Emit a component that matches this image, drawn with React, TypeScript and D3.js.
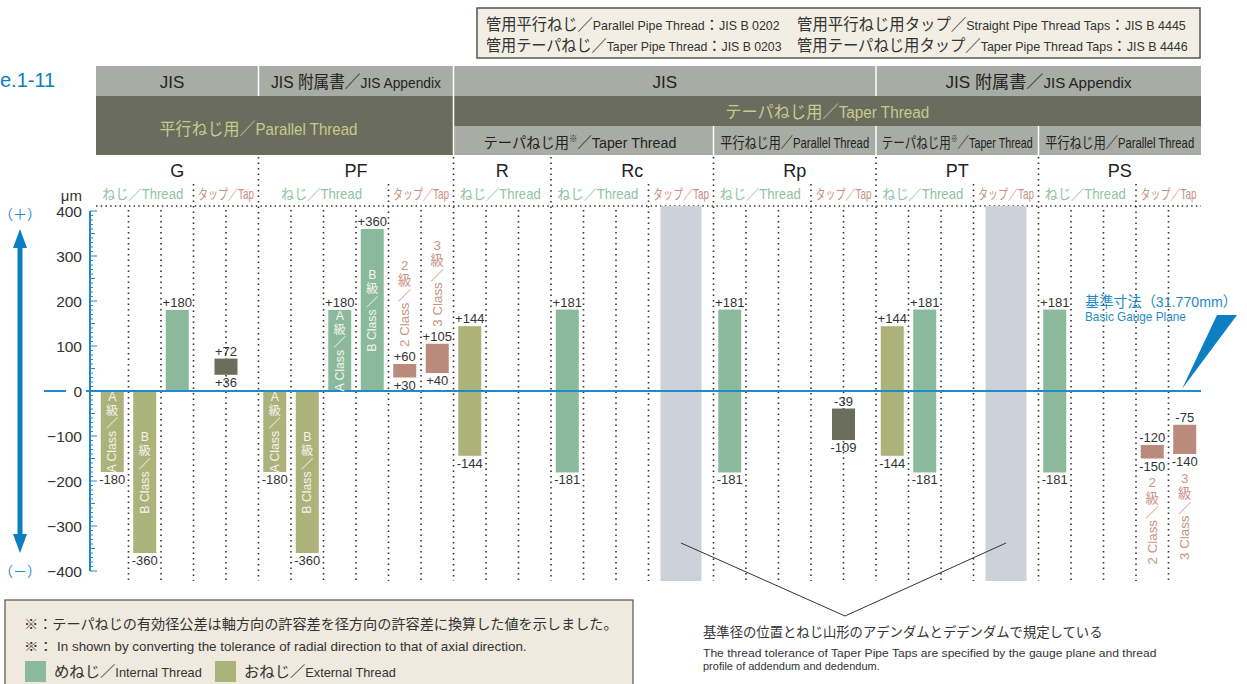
import React, { useLayoutEffect, useRef, useState } from 'react';
import * as d3 from 'd3';

const FONT = "'Liberation Sans', Arial, 'Noto Sans CJK JP', sans-serif";

// ---------- data ----------
const yTicks = [400, 300, 200, 100, 0, -100, -200, -300, -400];
const groupNames = ['G', 'PF', 'R', 'Rc', 'Rp', 'PT', 'PS'];
const groupStart = [0, 5, 11, 14, 19, 24, 29];
const groupEnd = [5, 11, 14, 19, 24, 29, 34];
const groupSplit = [3, 9, null, 17, 22, 27, 32];

// bar centre positions in column units
const barCenters = [0.5, 1.5, 2.5, 4, 5.5, 6.5, 7.5, 8.5, 9.5, 10.5, 11.5, 14.5, 19.5, 23, 24.5, 25.5, 29.5, 32.5, 33.5];
const barLow = [-180, -360, 0, 36, -180, -360, 0, 0, 30, 40, -144, -181, -181, -109, -144, -181, -181, -150, -140];
const barHigh = [0, 0, 180, 72, 0, 0, 180, 360, 60, 105, 144, 181, 181, -39, 144, 181, 181, -120, -75];
const barKinds = ['ext', 'ext', 'int', 'tapD', 'ext', 'ext', 'int', 'int', 'tapP', 'tapP', 'ext', 'int', 'int', 'tapD', 'ext', 'int', 'int', 'tapP', 'tapP'];
const barClass = ['A', 'B', '', '', 'A', 'B', 'A', 'B', '2', '3', '', '', '', '', '', '', '', '2', '3'];
const taperTapCenters = [18, 28];

const standardStart = [0, 5, 11, 24];
const standardEnd = [5, 11, 24, 34];
const standardJp = ['JIS', 'JIS 附属書／', 'JIS', 'JIS 附属書／'];
const standardEn = ['', 'JIS Appendix', '', 'JIS Appendix'];

const typeStart = [11, 19, 24, 29];
const typeEnd = [19, 24, 29, 34];
const typeJp = ['テーパねじ用', '平行ねじ用', 'テーパねじ用', '平行ねじ用'];
const typeMark = ['※', '', '※', ''];
const typeEn = ['Taper Thread', 'Parallel Thread', 'Taper Thread', 'Parallel Thread'];

const specJp = [['管用平行ねじ／', '管用平行ねじ用タップ／'], ['管用テーパねじ／', '管用テーパねじ用タップ／']];
const specEn = [['Parallel Pipe Thread', 'Straight Pipe Thread Taps'], ['Taper Pipe Thread', 'Taper Pipe Thread Taps']];
const specStd = [['JIS B 0202', 'JIS B 4445'], ['JIS B 0203', 'JIS B 4446']];

const COLORS: Record<string, string> = { int: '#8aba9b', ext: '#abb27a', tapD: '#6b6e5c', tapP: '#ba8a7c' };
const BLUE = '#1f8bc9';
const DEEPBLUE = '#0b7fc1';

const fmt = (v: number) => (v > 0 ? `+${v}` : `${v}`);

// Text squeezed horizontally to a given width (measured, then scaled)
function FitText({ x, y, width, anchor = 'start', fill, fontSize, children }:
  { x: number; y: number; width: number; anchor?: string; fill: string; fontSize?: number; children: React.ReactNode }) {
  const ref = useRef<SVGTextElement>(null);
  const [s, setS] = useState(1);
  useLayoutEffect(() => {
    if (ref.current) {
      const w = ref.current.getComputedTextLength();
      if (w > 0) setS(width / w);
    }
  }, [width]);
  return (
    <g transform={`translate(${x},${y}) scale(${s},1)`}>
      <text ref={ref} x={0} y={0} textAnchor={anchor} fill={fill} fontSize={fontSize}>{children}</text>
    </g>
  );
}

function ClassLabel({ cx, top, ch, color, fs }: { cx: number; top: number; ch: string; color: string; fs: number }) {
  return (
    <g fill={color} fontFamily={FONT}>
      <text x={cx} y={top + 0.75 * fs} textAnchor="middle" fontSize={fs}>{ch}</text>
      <text x={cx} y={top + 1.9 * fs} textAnchor="middle" fontSize={fs}>級</text>
      <text x={cx} y={top + 3.0 * fs} textAnchor="middle" fontSize={fs}>／</text>
      <text
        transform={`translate(${cx},${top + 3.2 * fs}) rotate(-90)`}
        textAnchor="end"
        dominantBaseline="central"
        fontSize={fs}
      >{`${ch} Class`}</text>
    </g>
  );
}

export default function App() {
  const W = 1247, H = 684;
  const x = d3.scaleLinear().domain([0, 34]).range([96, 1201]);
  const y = d3.scaleLinear().domain([-400, 400]).range([571, 211]);
  const barW = 23;
  const plotTop = 206, plotBottom = 581;

  const minor = d3.range(-400, 401, 10);

  const groupBounds = groupStart.filter((s) => s > 0);
  const splitBounds = groupSplit.filter((s) => s !== null) as number[];
  const plainCols = d3.range(1, 34).filter((c) => !groupBounds.includes(c) && !splitBounds.includes(c));

  return (
    <svg width={W} height={H} style={{ position: 'absolute', left: 0, top: 0, background: '#fff' }} fontFamily={FONT}>
      <rect x={0} y={0} width={W} height={H} fill="#fff" />
      <text x={0} y={87} fontSize={20} fill={DEEPBLUE}>e.1-11</text>

      {/* spec box */}
      <rect x={477} y={8} width={723} height={50} fill="#f2eee4" stroke="#555" strokeWidth={1.5} />
      {[0, 1].map((r) =>
        [0, 1].map((c) => (
          <FitText key={`${r}${c}`} x={c === 0 ? 486 : 797} y={r === 0 ? 30 : 51} fill="#333"
            width={c === 0 ? (r === 0 ? 294 : 296) : (r === 0 ? 389 : 391)}>
            <tspan fontSize={16}>{specJp[r][c]}</tspan>
            <tspan fontSize={13}>{specEn[r][c]}</tspan>
            <tspan fontSize={15}>：</tspan>
            <tspan fontSize={13}>{specStd[r][c]}</tspan>
          </FitText>
        ))
      )}

      {/* header row 1 */}
      {standardStart.map((s, i) => (
        <g key={i}>
          <rect x={x(s)} y={66} width={x(standardEnd[i]) - x(s)} height={30} fill="#a9aca5" />
          {standardEn[i] ? (
            <FitText x={(x(s) + x(standardEnd[i])) / 2} y={88} anchor="middle" fill="#222" width={i === 1 ? 170 : 186}>
              <tspan fontSize={17}>{standardJp[i]}</tspan>
              <tspan fontSize={15}>{standardEn[i]}</tspan>
            </FitText>
          ) : (
            <text x={i === 0 ? 172 : (x(s) + x(standardEnd[i])) / 2} y={88} textAnchor="middle" fill="#222" fontSize={17}>{standardJp[i]}</text>
          )}
        </g>
      ))}
      {/* header row 2 */}
      <rect x={x(0)} y={96} width={x(11) - x(0)} height={59} fill="#6a6d5d" />
      <rect x={x(11)} y={96} width={x(34) - x(11)} height={30} fill="#6a6d5d" />
      <FitText x={x(5)} y={135} anchor="middle" fill="#c6cb8e" width={198}>
        <tspan fontSize={17}>平行ねじ用／</tspan><tspan fontSize={16}>Parallel Thread</tspan>
      </FitText>
      <FitText x={x(22.5)} y={118} anchor="middle" fill="#c6cb8e" width={204}>
        <tspan fontSize={17}>テーパねじ用／</tspan><tspan fontSize={16}>Taper Thread</tspan>
      </FitText>
      {/* header row 3 */}
      {typeStart.map((s, i) => {
        const tl = [193, 149, 151, 149][i];
        const cx = i === 0 ? 580 : (x(s) + x(typeEnd[i])) / 2;
        return (
          <g key={i}>
            <rect x={x(s)} y={126} width={x(typeEnd[i]) - x(s)} height={29} fill="#a9aca5" />
            <FitText x={cx} y={148} anchor="middle" fill="#222" width={tl}>
              <tspan fontSize={15}>{typeJp[i]}</tspan>
              {typeMark[i] && <tspan fontSize={9} dy={-6}>{typeMark[i]}</tspan>}
              <tspan fontSize={15} dy={typeMark[i] ? 6 : 0}>／</tspan>
              <tspan fontSize={i === 0 ? 15 : 14}>{typeEn[i]}</tspan>
            </FitText>
          </g>
        );
      })}
      {[5, 11, 24].map((c) => (
        <line key={`s1${c}`} x1={x(c)} x2={x(c)} y1={66} y2={c === 11 ? 155 : 96} stroke="#fff" strokeWidth={1.5} />
      ))}
      {[19, 24, 29].map((c) => (
        <line key={`s3${c}`} x1={x(c)} x2={x(c)} y1={126} y2={155} stroke="#fff" strokeWidth={1.5} />
      ))}

      {/* group names and sub labels */}
      {groupNames.map((n, i) => {
        const s = groupStart[i], e = groupEnd[i], sp = groupSplit[i];
        const threadEnd = sp === null ? e : sp;
        return (
          <g key={n}>
            <text x={(x(s) + x(e)) / 2} y={177} textAnchor="middle" fontSize={18} fill="#222">{n}</text>
            <FitText x={(x(s) + x(threadEnd)) / 2 - 2} y={199} anchor="middle" fill="#8fc3a3" width={81} fontSize={14}>
              ねじ／Thread
            </FitText>
            {sp !== null && (
              <FitText x={(x(sp) + x(e)) / 2} y={199} anchor="middle" fill="#c9907f" width={56} fontSize={14}>
                タップ／Tap
              </FitText>
            )}
          </g>
        );
      })}

      {/* dotted grid */}
      <g stroke="#333" strokeWidth={1.6} fill="none">
        <line x1={x(0)} x2={x(34)} y1={plotTop} y2={plotTop} strokeDasharray="1.5 3.2" />
        {groupBounds.map((c) => (
          <line key={`g${c}`} x1={x(c)} x2={x(c)} y1={157} y2={plotBottom} strokeDasharray="1.5 4" />
        ))}
        {splitBounds.map((c) => (
          <line key={`p${c}`} x1={x(c)} x2={x(c)} y1={184} y2={plotBottom} strokeDasharray="1.5 4" />
        ))}
        {plainCols.map((c) => (
          <line key={`c${c}`} x1={x(c)} x2={x(c)} y1={plotTop + 4} y2={plotBottom} strokeDasharray="1.5 4" />
        ))}
      </g>

      {taperTapCenters.map((c) => (
        <rect key={c} x={x(c) - 20.5} y={plotTop} width={41} height={plotBottom - plotTop} fill="#cdd1d9" />
      ))}

      {/* bars */}
      {barCenters.map((c, i) => {
        const cx = x(c);
        return (
          <rect key={`b${i}`} x={cx - barW / 2} y={y(barHigh[i])} width={barW} height={y(barLow[i]) - y(barHigh[i])} fill={COLORS[barKinds[i]]} />
        );
      })}

      {/* zero line */}
      <line x1={44} x2={66} y1={y(0)} y2={y(0)} stroke={BLUE} strokeWidth={2} />
      <line x1={86} x2={1201} y1={y(0)} y2={y(0)} stroke={BLUE} strokeWidth={2} />

      {/* value labels and class labels */}
      {barCenters.map((c, i) => {
        const cx = x(c);
        const lo = barLow[i], hi = barHigh[i];
        const kind = barKinds[i];
        const cls = barClass[i];
        let clsEl = null;
        if (cls && (kind === 'ext' || kind === 'int')) {
          const mid = (y(lo) + y(hi)) / 2;
          clsEl = <ClassLabel cx={cx} top={mid - 40} ch={cls} color="#f4f5ec" fs={12.3} />;
        } else if (cls && kind === 'tapP') {
          if (hi > 0) {
            clsEl = <ClassLabel cx={cx} top={y(hi) - 17 - 87} ch={cls} color="#c99383" fs={13.3} />;
          } else {
            clsEl = <ClassLabel cx={cx} top={y(lo) + 19} ch={cls} color="#c99383" fs={13.3} />;
          }
        }
        return (
          <g key={`l${i}`}>
            {hi !== 0 && (
              <text x={cx} y={y(hi) - 3} textAnchor="middle" fontSize={13} fill="#333">{fmt(hi)}</text>
            )}
            {lo !== 0 && (
              <text x={cx} y={y(lo) + 12} textAnchor="middle" fontSize={13} fill="#333">{fmt(lo)}</text>
            )}
            {clsEl}
          </g>
        );
      })}

      {/* y axis */}
      <line x1={90} x2={90} y1={y(400)} y2={y(-400)} stroke={BLUE} strokeWidth={2} />
      {minor.map((v) => (
        <line key={v} x1={90} x2={90 + (v % 100 === 0 ? 7 : v % 50 === 0 ? 5 : 3)} y1={y(v)} y2={y(v)} stroke={BLUE} strokeWidth={1} />
      ))}
      {yTicks.map((v) => (
        <text key={v} x={82} y={y(v)} textAnchor="end" dominantBaseline="central" fontSize={15.5} fill="#333">
          {v < 0 ? `\u2212${-v}` : `${v}`}
        </text>
      ))}
      <text x={82} y={201} textAnchor="end" fontSize={15} fill="#333">μm</text>

      {/* direction arrow */}
      <line x1={20} x2={20} y1={245} y2={537} stroke={DEEPBLUE} strokeWidth={5} />
      <polygon points="20,229 13,248 27,248" fill={DEEPBLUE} />
      <polygon points="20,553 13,534 27,534" fill={DEEPBLUE} />
      <text x={20} y={214} textAnchor="middle" dominantBaseline="central" fontSize={14} fill={BLUE}>（＋）</text>
      <text x={20} y={571} textAnchor="middle" dominantBaseline="central" fontSize={14} fill={BLUE}>（－）</text>

      {/* gauge plane annotation */}
      <FitText x={1085} y={307} fill={BLUE} width={152} fontSize={14.5}>基準寸法（31.770mm）</FitText>
      <FitText x={1085} y={321} fill={BLUE} width={101} fontSize={12}>Basic Gauge Plane</FitText>
      <polygon points="1217,315 1237,315 1182,389" fill={DEEPBLUE} />

      {/* pointer lines to note */}
      <polyline points={`${x(18)},543 845,616 ${x(28)},543`} fill="none" stroke="#333" strokeWidth={1} />
      <FitText x={703} y={637} fill="#333" width={400} fontSize={13.5}>基準径の位置とねじ山形のアデンダムとデデンダムで規定している</FitText>
      <FitText x={703} y={657} fill="#333" width={454} fontSize={11}>The thread tolerance of Taper Pipe Taps are specified by the gauge plane and thread</FitText>
      <text x={703} y={670} fontSize={11} fill="#333">profile of addendum and dedendum.</text>

      {/* notes box */}
      <rect x={5} y={600} width={628} height={95} fill="#efe9de" stroke="#555" strokeWidth={1.2} />
      <FitText x={24} y={629} fill="#333" width={594} fontSize={14}>※：テーパねじの有効径公差は軸方向の許容差を径方向の許容差に換算した値を示しました。</FitText>
      <FitText x={24} y={651} fill="#333" width={503}>
        <tspan fontSize={13}>※： </tspan><tspan fontSize={12}>In shown by converting the tolerance of radial direction to that of axial direction.</tspan>
      </FitText>
      <rect x={25} y={661} width={21} height={21} fill={COLORS.int} />
      <FitText x={54} y={677} fill="#333" width={148}>
        <tspan fontSize={15}>めねじ／</tspan><tspan fontSize={12.5}>Internal Thread</tspan>
      </FitText>
      <rect x={215} y={661} width={21} height={21} fill={COLORS.ext} />
      <FitText x={244} y={677} fill="#333" width={152}>
        <tspan fontSize={15}>おねじ／</tspan><tspan fontSize={12.5}>External Thread</tspan>
      </FitText>
    </svg>
  );
}
